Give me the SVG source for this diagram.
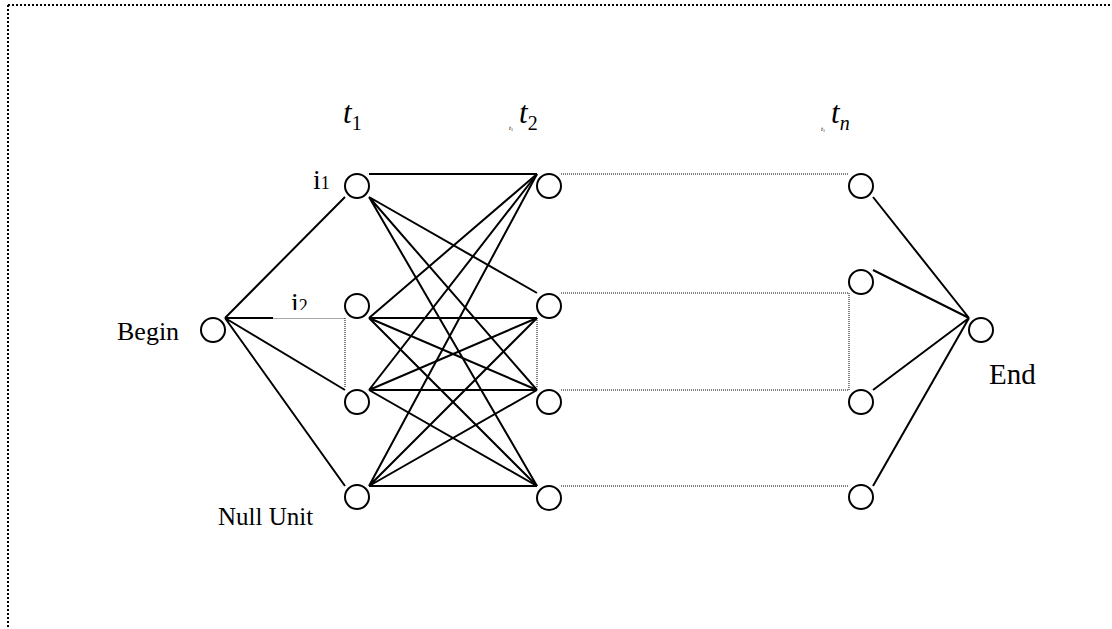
<svg xmlns="http://www.w3.org/2000/svg" width="1112" height="629" viewBox="0 0 1112 629">
<style>
.n{fill:none;stroke:#000;stroke-width:2}
.e{stroke:#000;stroke-width:2;fill:none}
.d{stroke:#000;stroke-width:1;stroke-dasharray:1 1;fill:none}
.t{font-family:"Liberation Serif","Times New Roman",serif;fill:#000}
.it{font-style:italic}
</style>
<defs>
<clipPath id="cl"><rect x="280" y="280" width="60" height="30"/></clipPath>
</defs>
<rect x="0" y="0" width="1112" height="629" fill="#fff"/>
<g id="border">
<path d="M8 5H1112M8 5V629" stroke="#000" stroke-width="2" stroke-dasharray="2 2" fill="none"/>
</g>
<g id="connectors">
<path class="e" d="M225 318L345 197M225 318H273M225 318L345 390M225 318L345 486"/>
<path d="M273 318.5H345" stroke="#aaa" stroke-width="1"/>
<path class="d" d="M345 318V388M537 318V388"/>
<path class="e" d="M369 174H537M369 197L537 293M369 197L537 390M369 197L537 486"/>
<path class="e" d="M369 318L537 174M369 318H537M369 318L537 390M369 318L537 486"/>
<path class="e" d="M369 390L537 174M369 390L537 318M369 390H537M369 390L537 486"/>
<path class="e" d="M369 486L537 174M369 486L537 318M369 486L537 390M369 486H537"/>
<path class="d" d="M561 174H849M561 293H849V390M561 390H849M561 486H849"/>
<path class="e" d="M873 197L969 318M873 270L969 318M873 390L969 318M873 486L969 318"/>
</g>
<g id="begin"><circle class="n" cx="213" cy="330" r="12"/><text class="t" x="117" y="340" font-size="26">Begin</text></g>
<g id="c1r1"><circle class="n" cx="357" cy="186" r="12"/><text class="t" x="313" y="189" font-size="28">i<tspan font-size="18">1</tspan></text></g>
<g id="c1r2"><circle class="n" cx="357" cy="306" r="12"/><text class="t" x="291" y="312" font-size="28" clip-path="url(#cl)">i<tspan font-size="18">2</tspan></text></g>
<g id="c1r3"><circle class="n" cx="357" cy="402" r="12"/></g>
<g id="c1r4"><circle class="n" cx="357" cy="497" r="12"/><text class="t" x="218" y="525" font-size="25">Null Unit</text></g>
<g id="c2r1"><circle class="n" cx="549" cy="186" r="12"/></g>
<g id="c2r2"><circle class="n" cx="549" cy="306" r="12"/></g>
<g id="c2r3"><circle class="n" cx="549" cy="402" r="12"/></g>
<g id="c2r4"><circle class="n" cx="549" cy="498" r="12"/></g>
<g id="cnr1"><circle class="n" cx="861" cy="186" r="12"/></g>
<g id="cnr2"><circle class="n" cx="861" cy="282" r="12"/></g>
<g id="cnr3"><circle class="n" cx="861" cy="402" r="12"/></g>
<g id="cnr4"><circle class="n" cx="861" cy="497" r="12"/></g>
<g id="end"><circle class="n" cx="981" cy="330" r="12"/><text class="t" x="989" y="384" font-size="29">End</text></g>
<g id="labels">
<text class="t" x="343" y="123" font-size="31"><tspan class="it">t</tspan><tspan font-size="20" dy="7">1</tspan></text>
<text class="t" x="509" y="130" font-size="7" fill="#888"><tspan class="it">t</tspan><tspan font-size="4" dy="1">1</tspan></text>
<text class="t" x="519" y="123" font-size="31"><tspan class="it">t</tspan><tspan font-size="20" dy="7">2</tspan></text>
<text class="t" x="821" y="131" font-size="7" fill="#888"><tspan class="it">t</tspan><tspan font-size="4" dy="1">1</tspan></text>
<text class="t" x="831" y="123" font-size="31"><tspan class="it">t</tspan><tspan class="it" font-size="20" dy="7">n</tspan></text>
</g>
</svg>
